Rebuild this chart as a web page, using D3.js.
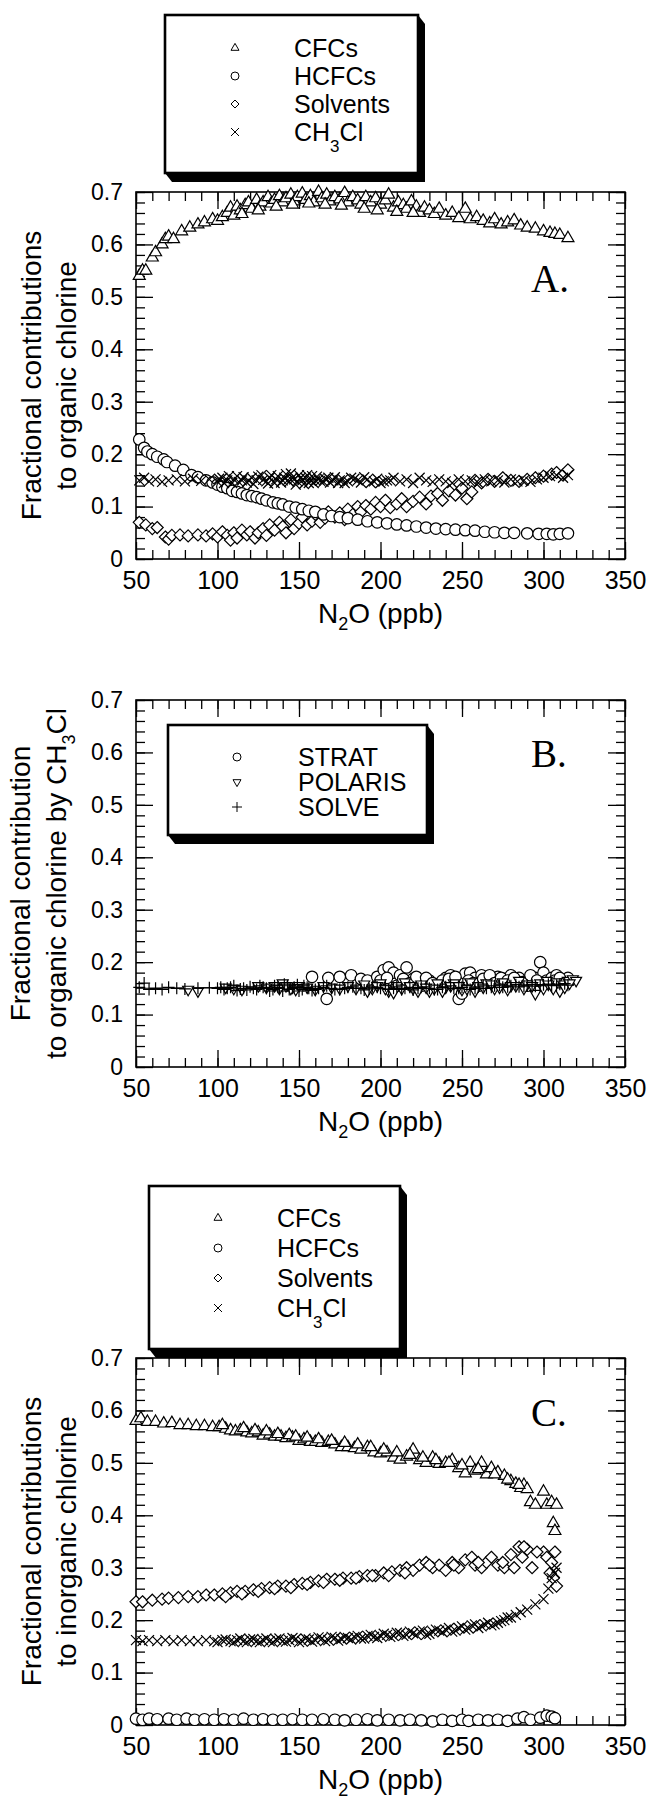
<!DOCTYPE html>
<html lang="en">
<head>
<meta charset="utf-8">
<title>Chlorine fractions vs N2O</title>
<script src="https://cdn.jsdelivr.net/npm/d3@7"></script>
<style>
  body { margin: 0; background: #fff; }
  svg { display: block; }
  text { font-family: "Liberation Sans", Arial, Helvetica, sans-serif; fill: #000; }
  .letter { font-family: "Liberation Serif", "Times New Roman", serif; }
</style>
</head>
<body>
<div id="chart"></div>
<script>
// ---- data: [N2O ppb, fraction] ----
const xTicks = [50, 100, 150, 200, 250, 300, 350];
const yTicks = [0, 0.1, 0.2, 0.3, 0.4, 0.5, 0.6, 0.7];

const aCFCs = [[52,.54],[54,.55],[56,.55],[60,.575],[62,.585],[66,.6],[68,.61],[70,.615],[73,.61],[78,.625],[83,.632],[88,.638],[92,.642],[97,.648],[100,.645],[103,.652],[106,.66],[108,.67],[110,.655],[112,.672],[114,.665],[117,.675],[119,.68],[121,.668],[124,.685],[126,.672],[128,.68],[131,.69],[133,.678],[135,.685],[138,.692],[140,.68],[142,.688],[145,.695],[147,.682],[149,.69],[152,.697],[154,.685],[157,.692],[159,.68],[162,.7],[164,.688],[167,.695],[169,.682],[172,.69],[175,.686],[178,.698],[180,.68],[183,.69],[186,.684],[188,.676],[191,.69],[194,.68],[197,.688],[200,.676],[203,.684],[205,.695],[208,.67],[211,.68],[214,.675],[216,.668],[219,.682],[222,.672],[224,.66],[227,.67],[230,.665],[233,.658],[236,.668],[240,.655],[244,.66],[248,.65],[252,.668],[255,.648],[259,.652],[263,.645],[267,.64],[270,.648],[274,.638],[278,.642],[282,.646],[286,.636],[290,.632],[295,.63],[300,.625],[304,.622],[307,.62],[310,.618],[315,.612],
  [115,.658],[125,.665],[136,.672],[146,.676],[156,.678],[166,.676],[176,.674],[190,.668],[198,.665],[210,.662],[220,.66]];
const aHCFCs = [[52,.228],[55,.212],[57,.205],[60,.2],[63,.195],[67,.19],[69,.185],[74,.178],[79,.17],[84,.16],[88,.156],[93,.15],[97,.146],[100,.142],[103,.138],[106,.135],[109,.13],[112,.128],[115,.125],[118,.122],[121,.12],[124,.118],[127,.115],[130,.112],[134,.108],[137,.106],[140,.104],[144,.1],[148,.098],[152,.095],[156,.092],[160,.09],[165,.085],[170,.082],[175,.08],[180,.078],[186,.075],[192,.072],[198,.07],[204,.068],[210,.066],[216,.064],[222,.062],[228,.06],[234,.058],[240,.057],[246,.056],[252,.055],[258,.054],[264,.052],[270,.051],[276,.05],[282,.05],[290,.049],[297,.048],[302,.048],[306,.047],[310,.048],[315,.049]];
const aSolvents = [[52,.07],[56,.065],[60,.058],[63,.06],[68,.042],[70,.038],[72,.045],[77,.046],[82,.044],[88,.046],[93,.044],[97,.048],[100,.042],[103,.052],[106,.045],[108,.036],[110,.05],[112,.04],[115,.055],[118,.046],[120,.052],[123,.04],[125,.05],[128,.058],[130,.045],[132,.065],[135,.055],[138,.07],[140,.062],[142,.05],[145,.075],[147,.058],[150,.068],[152,.08],[155,.065],[158,.072],[160,.085],[163,.07],[166,.078],[168,.09],[172,.08],[175,.088],[178,.075],[180,.095],[183,.085],[186,.1],[188,.09],[191,.102],[194,.095],[197,.108],[200,.1],[203,.112],[206,.098],[210,.105],[213,.115],[216,.1],[220,.11],[224,.118],[228,.105],[231,.12],[235,.125],[238,.112],[242,.13],[246,.122],[250,.135],[253,.115],[256,.128],[258,.15],[262,.145],[266,.152],[270,.148],[275,.155],[280,.15],[285,.148],[290,.152],[295,.155],[300,.158],[305,.162],[308,.165],[312,.16],[315,.17]];
const aCH3Cl = [[52,.15],[55,.155],[58,.148],[62,.152],[66,.147],[70,.15],[75,.152],[80,.148],[85,.153],[90,.149],[95,.152],[100,.147],[103,.155],[106,.15],[109,.145],[112,.158],[115,.15],[118,.146],[121,.155],[124,.15],[127,.16],[130,.148],[132,.155],[135,.145],[137,.158],[140,.15],[142,.162],[144,.147],[146,.155],[148,.142],[150,.16],[152,.15],[154,.155],[156,.145],[158,.158],[160,.15],[162,.152],[165,.147],[168,.155],[171,.15],[174,.145],[177,.152],[180,.148],[184,.153],[188,.146],[192,.152],[196,.148],[200,.145],[204,.15],[208,.155],[212,.148],[216,.152],[220,.145],[224,.155],[228,.15],[232,.147],[236,.152],[240,.148],[244,.145],[248,.152],[252,.148],[256,.15],[260,.145],[264,.152],[268,.148],[272,.15],[276,.146],[280,.152],[284,.148],[288,.15],[292,.147],[296,.152],[300,.155],[304,.158],[308,.16],[312,.155],[315,.16],
  [101,.153],[104,.145],[107,.158],[110,.152],[113,.147],[116,.156],[119,.15],[122,.143],[125,.157],[128,.151],[131,.144],[133,.16],[136,.152],[139,.146],[141,.155],[143,.15],[145,.163],[147,.152],[149,.148],[151,.155],[153,.143],[155,.16],[157,.15],[159,.145],[161,.157],[163,.149],[166,.153],[169,.146],[172,.156],[175,.15],[178,.145],[182,.155],[186,.15],[190,.156],[194,.145],[198,.153],[202,.148],[206,.15]];

const bSTRAT = [[158,.172],[167,.13],[168,.17],[175,.172],[182,.175],[188,.168],[192,.165],[198,.172],[202,.185],[205,.19],[208,.18],[210,.155],[212,.175],[216,.19],[220,.168],[225,.162],[225,.155],[230,.165],[235,.158],[240,.17],[243,.175],[245,.16],[248,.13],[250,.14],[252,.178],[255,.18],[258,.17],[260,.155],[262,.175],[265,.165],[268,.17],[272,.172],[275,.16],[276,.168],[280,.175],[285,.17],[290,.165],[290,.155],[295,.17],[298,.2],[300,.18],[302,.165],[305,.17],[308,.175],[312,.165],[315,.17],
  [200,.165],[204,.17],[214,.168],[218,.16],[222,.172],[228,.17],[232,.16],[238,.165],[242,.168],[246,.172],[254,.165],[257,.16],[263,.168],[267,.175],[270,.16],[274,.17],[278,.165],[282,.17],[287,.162],[292,.175],[296,.165],[304,.16],[307,.165],[310,.17],[313,.16]];
const bPOLARIS = [[82,.148],[88,.145],[105,.152],[110,.15],[115,.148],[125,.155],[135,.155],[140,.16],[145,.15],[150,.155],[160,.148],[170,.152],[180,.155],[190,.158],[195,.15],[200,.16],[205,.145],[210,.155],[215,.162],[220,.15],[225,.158],[230,.145],[235,.16],[240,.152],[245,.16],[250,.148],[255,.162],[260,.155],[265,.16],[270,.15],[275,.162],[280,.155],[285,.165],[290,.158],[295,.14],[298,.16],[300,.15],[302,.165],[305,.155],[308,.162],[310,.145],[312,.158],[315,.165],[318,.168],[320,.165],
  [130,.152],[138,.15],[142,.155],[148,.148],[155,.152],[165,.155],[175,.15],[185,.15],[192,.145],[198,.155],[203,.15],[208,.142],[213,.15],[218,.155],[223,.145],[228,.152],[233,.15],[238,.145],[243,.155],[248,.155],[253,.15],[258,.145],[263,.152],[268,.158],[273,.152],[278,.148],[283,.155],[288,.15],[293,.155],[303,.158],[306,.15],[313,.152],[316,.16]];
const bSOLVE = [[52,.152],[55,.16],[58,.148],[62,.15],[66,.148],[70,.152],[75,.15],[80,.149],[88,.15],[95,.151],[100,.15],[104,.148],[108,.152],[112,.146],[116,.15],[120,.153],[124,.148],[128,.152],[132,.145],[135,.155],[138,.15],[141,.158],[144,.148],[147,.152],[150,.145],[153,.155],[156,.15],[160,.148],[165,.152],[170,.15],[175,.148],[180,.152],[185,.15],[190,.147],[195,.153],[200,.15],[205,.148],[210,.153],[215,.15],[220,.147],[225,.152],[230,.15],[235,.148],[240,.153],[245,.15],[250,.152],[255,.148],[260,.153],[265,.15],[270,.155],[275,.152],[280,.155],[285,.153],[290,.156],[295,.154],[300,.157],[305,.155],[310,.158],[315,.156],
  [102,.152],[106,.15],[110,.155],[114,.149],[118,.147],[122,.15],[126,.155],[130,.15],[134,.148],[137,.152],[140,.145],[143,.155],[146,.15],[149,.157],[152,.148],[155,.152],[158,.146],[162,.15],[167,.155],[172,.148],[178,.15],[183,.153],[188,.15],[193,.149],[198,.152],[203,.155],[208,.15],[213,.148],[218,.152],[223,.15],[228,.153],[233,.148],[238,.152],[243,.155],[248,.15],[253,.155],[258,.15],[263,.155],[268,.152],[273,.156],[278,.153],[283,.157],[288,.154],[293,.157],[298,.155],[303,.158],[308,.156],[313,.159]];
const bFit = [[50,.150],[318,.158]];

const cCFCs = [[50,.58],[53,.585],[57,.578],[62,.578],[67,.575],[72,.576],[77,.572],[82,.572],[87,.57],[92,.57],[97,.568],[101,.568],[105,.565],[108,.562],[111,.56],[114,.562],[118,.558],[121,.556],[125,.558],[128,.552],[132,.554],[135,.55],[139,.55],[142,.547],[146,.548],[150,.542],[153,.545],[157,.54],[160,.54],[164,.538],[168,.54],[172,.535],[176,.53],[180,.53],[184,.528],[188,.525],[192,.53],[196,.52],[200,.518],[204,.52],[208,.51],[212,.506],[216,.512],[220,.525],[224,.505],[228,.5],[232,.51],[236,.498],[240,.5],[244,.505],[248,.49],[252,.48],[255,.5],[258,.485],[262,.5],[265,.478],[268,.49],[272,.482],[276,.475],[280,.465],[283,.46],[286,.452],[288,.458],[290,.45],[292,.425],[295,.42],[300,.445],[302,.42],[305,.425],[306,.385],[307,.37],[308,.42],
  [103,.572],[116,.566],[123,.562],[130,.56],[137,.555],[144,.553],[148,.55],[155,.548],[162,.545],[170,.542],[178,.538],[186,.535],[194,.53],[202,.525],[210,.52],[218,.515],[226,.51],[234,.505],[242,.5],[250,.495],[260,.488],[270,.478],[278,.468],[285,.458]];
const cHCFCs = [[50,.012],[54,.01],[58,.012],[63,.011],[70,.012],[75,.01],[81,.012],[86,.01],[92,.011],[98,.01],[104,.011],[110,.01],[116,.012],[122,.01],[128,.011],[134,.01],[140,.01],[146,.011],[152,.01],[158,.01],[165,.011],[172,.01],[178,.009],[185,.01],[192,.011],[198,.009],[205,.01],[212,.009],[218,.01],[225,.009],[232,.007],[238,.01],[244,.008],[250,.01],[254,.008],[260,.01],[266,.009],[272,.01],[278,.008],[284,.012],[288,.015],[292,.01],[298,.014],[302,.018],[305,.016],[307,.013]];
const cSolvents = [[50,.235],[54,.235],[60,.238],[66,.24],[70,.242],[76,.243],[82,.245],[88,.245],[93,.248],[98,.248],[103,.25],[108,.252],[112,.255],[117,.255],[122,.258],[127,.26],[132,.262],[137,.265],[142,.265],[147,.268],[152,.27],[157,.272],[162,.275],[167,.278],[172,.278],[177,.28],[182,.28],[187,.283],[192,.285],[197,.285],[202,.29],[207,.292],[212,.295],[216,.3],[220,.295],[224,.305],[228,.31],[232,.3],[236,.305],[240,.295],[244,.31],[248,.3],[252,.315],[256,.32],[258,.305],[262,.3],[265,.31],[268,.32],[272,.305],[276,.3],[280,.325],[282,.3],[285,.34],[287,.32],[290,.335],[293,.3],[300,.33],[302,.32],[304,.29],[305,.31],[306,.28],[307,.33],[308,.265],
  [105,.245],[115,.25],[125,.255],[135,.26],[145,.262],[155,.268],[165,.272],[175,.276],[185,.28],[195,.285],[205,.285],[215,.29],[230,.305],[245,.305],[260,.31],[275,.31],[288,.34],[296,.33]];
const cCH3Cl = [[50,.162],[54,.16],[58,.162],[63,.16],[68,.162],[73,.16],[78,.162],[83,.16],[88,.16],[93,.162],[98,.16],[103,.162],[108,.16],[112,.162],[116,.16],[120,.163],[124,.16],[128,.162],[132,.16],[136,.163],[140,.16],[144,.162],[148,.164],[152,.16],[156,.163],[160,.162],[164,.165],[168,.162],[172,.166],[176,.164],[180,.166],[184,.168],[188,.165],[192,.17],[196,.168],[200,.17],[204,.172],[208,.17],[212,.175],[216,.172],[220,.175],[224,.178],[228,.172],[232,.178],[236,.18],[240,.182],[244,.178],[248,.185],[252,.182],[256,.19],[260,.185],[264,.192],[268,.19],[272,.195],[276,.2],[280,.205],[283,.21],[286,.215],[290,.22],[295,.23],[300,.24],[303,.26],[305,.28],[307,.29],[308,.3],
  [100,.158],[105,.163],[110,.158],[114,.165],[118,.158],[122,.164],[126,.158],[130,.165],[134,.158],[138,.165],[142,.159],[146,.166],[150,.158],[154,.165],[158,.159],[162,.167],[166,.16],[170,.168],[174,.161],[178,.168],[182,.163],[186,.17],[190,.165],[194,.172],[198,.166],[202,.174],[206,.168],[210,.176],[214,.17],[218,.178],[222,.172],[226,.18],[230,.174],[234,.182],[238,.177],[242,.185],[246,.18],[250,.188],[254,.184],[258,.192],[262,.188],[266,.195],[270,.192],[274,.198],[278,.205]];

// ---- layout ----
const w = 650, h = 1801;
const left = 136, right = 625, plotH = 367;

// marker outlines centred on 0,0
const shapes = {
  tri: s => { const t = s * 0.866; return `M0,${-2*t/3}L${s/2},${t/3}L${-s/2},${t/3}Z`; },
  dtri: s => { const t = s * 0.866; return `M0,${2*t/3}L${s/2},${-t/3}L${-s/2},${-t/3}Z`; },
  circ: s => { const r = s / 2; return `M${r},0A${r},${r} 0 1,1 ${-r},0A${r},${r} 0 1,1 ${r},0Z`; },
  dia: s => { const r = s / 2; return `M0,${-r}L${r},0L0,${r}L${-r},0Z`; },
  times: s => { const r = s / 2; return `M${-r},${-r}L${r},${r}M${-r},${r}L${r},${-r}`; },
  plus: s => { const r = s / 2; return `M${-r},0L${r},0M0,${-r}L0,${r}`; }
};
const sizes = { tri: 12, dtri: 11, circ: 11.5, dia: 12, times: 10, plus: 12 };

const svg = d3.select("#chart").append("svg")
  .attr("width", w)
  .attr("height", h);

const xScale = d3.scaleLinear().domain([50, 350]).range([left, right]);

const drawPanel = (top, opts) => {
  const bottom = top + plotH;
  const yScale = d3.scaleLinear().domain([0, 0.7]).range([bottom, top]);
  const g = svg.append("g");

  // minor ticks on all sides
  const xMinor = d3.range(50, 351, 10);
  const yMinor = d3.range(0, 36).map(i => i * 0.02).filter(v => v <= 0.7001);
  g.append("g").attr("transform", `translate(0,${bottom})`)
    .call(d3.axisBottom(xScale).tickValues(xMinor).tickSize(-9).tickFormat(""));
  g.append("g").attr("transform", `translate(0,${top})`)
    .call(d3.axisTop(xScale).tickValues(xMinor).tickSize(-9).tickFormat(""));
  g.append("g").attr("transform", `translate(${left},0)`)
    .call(d3.axisLeft(yScale).tickValues(yMinor).tickSize(-9).tickFormat(""));
  g.append("g").attr("transform", `translate(${right},0)`)
    .call(d3.axisRight(yScale).tickValues(yMinor).tickSize(-9).tickFormat(""));

  // major ticks + labels
  const xAxis = g.append("g").attr("class", "x axis").attr("transform", `translate(0,${bottom})`)
    .call(d3.axisBottom(xScale).tickValues(xTicks).tickSize(-17).tickPadding(12).tickFormat(d3.format("d")));
  xAxis.selectAll("text").style("font-size", "25px");
  g.append("g").attr("transform", `translate(0,${top})`)
    .call(d3.axisTop(xScale).tickValues(xTicks).tickSize(-17).tickFormat(""));
  const yAxis = g.append("g").attr("class", "y axis").attr("transform", `translate(${left},0)`)
    .call(d3.axisLeft(yScale).tickValues(yTicks).tickSize(-17).tickPadding(13)
      .tickFormat(d => d === 0 ? "0" : d3.format(".1f")(d)));
  yAxis.selectAll("text").style("font-size", "23px");
  g.append("g").attr("transform", `translate(${right},0)`)
    .call(d3.axisRight(yScale).tickValues(yTicks).tickSize(-17).tickFormat(""));

  g.selectAll(".domain").remove();
  g.selectAll(".tick line").attr("stroke", "#000").attr("stroke-width", 1.3);
  g.selectAll(".tick text").attr("font-family", "Liberation Sans, Arial, sans-serif").attr("fill", "#000");

  g.append("rect")
    .attr("x", left).attr("y", top)
    .attr("width", right - left).attr("height", plotH)
    .attr("fill", "none").attr("stroke", "#000").attr("stroke-width", 1.6);

  // optional line
  if (opts.line) {
    g.append("path")
      .attr("d", d3.line().x(d => xScale(d[0])).y(d => yScale(d[1]))(opts.line))
      .attr("fill", "none").attr("stroke", "#000").attr("stroke-width", 1);
  }

  // series
  opts.series.forEach(s => {
    g.append("g").selectAll("path")
      .data(s.data)
      .enter()
      .append("path")
      .attr("transform", d => `translate(${xScale(d[0])},${yScale(d[1])})`)
      .attr("d", shapes[s.shape](sizes[s.shape]))
      .attr("fill", (s.shape === "times" || s.shape === "plus") ? "none" : "#fff")
      .attr("stroke", "#000")
      .attr("stroke-width", 1.2);
  });

  // panel letter
  g.append("text")
    .attr("class", "letter")
    .attr("x", 531).attr("y", yScale(opts.letterAt))
    .style("font-size", "39px")
    .text(opts.letter);

  // x title
  const xt = g.append("text")
    .attr("x", (left + right) / 2).attr("y", bottom + 64)
    .attr("text-anchor", "middle")
    .style("font-size", "28px");
  xt.append("tspan").text("N");
  xt.append("tspan").attr("dy", 7).style("font-size", "18px").text("2");
  xt.append("tspan").attr("dy", -7).text("O (ppb)");

  // y title, two lines
  const cy = (top + bottom) / 2;
  opts.ytitle.forEach((line, i) => {
    const t = g.append("text")
      .attr("transform", `translate(${opts.ytx[i]},${cy}) rotate(-90)`)
      .attr("text-anchor", "middle")
      .style("font-size", "28px");
    line.forEach(part => {
      const sp = t.append("tspan").text(part.t);
      if (part.sub) sp.attr("dy", 9).style("font-size", "18px");
      if (part.after) sp.attr("dy", -9);
    });
  });

  return yScale;
};

const drawLegend = (box, items) => {
  const g = svg.append("g");
  const { x0, y0, x1, y1, mx, tx, rows } = box;
  const dx = 7, dy = 9;
  g.append("path")
    .attr("d", `M${x1},${y0}L${x1 + dx},${y0 + dy}L${x1 + dx},${y1 + dy}L${x0 + dx},${y1 + dy}L${x0},${y1}Z`)
    .attr("fill", "#000");
  g.append("rect")
    .attr("x", x0).attr("y", y0)
    .attr("width", x1 - x0).attr("height", y1 - y0)
    .attr("fill", "#fff").attr("stroke", "#000").attr("stroke-width", 2.6);
  items.forEach((it, i) => {
    g.append("path")
      .attr("transform", `translate(${mx},${rows[i]})`)
      .attr("d", shapes[it.shape](it.shape === "plus" ? 10 : 8))
      .attr("fill", "none").attr("stroke", "#000").attr("stroke-width", 1);
    const t = g.append("text")
      .attr("x", tx).attr("y", rows[i] + 8.5)
      .style("font-size", "25px");
    it.label.forEach(part => {
      const sp = t.append("tspan").text(part.t);
      if (part.sub) sp.attr("dy", 11).style("font-size", "17px");
      if (part.after) sp.attr("dy", -11);
    });
  });
};

const chlorineItems = [
  { shape: "tri", label: [{ t: "CFCs" }] },
  { shape: "circ", label: [{ t: "HCFCs" }] },
  { shape: "dia", label: [{ t: "Solvents" }] },
  { shape: "times", label: [{ t: "CH" }, { t: "3", sub: true }, { t: "Cl", after: true }] }
];

// Panel A
drawLegend({ x0: 165, y0: 15, x1: 418, y1: 173, mx: 235, tx: 294, rows: [48, 76, 104, 132] }, chlorineItems);
drawPanel(192, {
  letter: "A.", letterAt: 0.51,
  ytitle: [[{ t: "Fractional contributions" }], [{ t: "to organic chlorine" }]],
  ytx: [41, 76],
  series: [
    { shape: "tri", data: aCFCs },
    { shape: "dia", data: aSolvents },
    { shape: "circ", data: aHCFCs },
    { shape: "times", data: aCH3Cl }
  ]
});

// Panel B
drawPanel(700, {
  letter: "B.", letterAt: 0.573,
  line: bFit,
  ytitle: [[{ t: "Fractional contribution" }], [{ t: "to organic chlorine by CH" }, { t: "3", sub: true }, { t: "Cl", after: true }]],
  ytx: [30, 66],
  series: [
    { shape: "circ", data: bSTRAT },
    { shape: "dtri", data: bPOLARIS },
    { shape: "plus", data: bSOLVE }
  ]
});
drawLegend({ x0: 168, y0: 725, x1: 427, y1: 835, mx: 237, tx: 298, rows: [757, 782, 807] }, [
  { shape: "circ", label: [{ t: "STRAT" }] },
  { shape: "dtri", label: [{ t: "POLARIS" }] },
  { shape: "plus", label: [{ t: "SOLVE" }] }
]);

// Panel C
drawLegend({ x0: 149, y0: 1186, x1: 400, y1: 1349, mx: 218, tx: 277, rows: [1218, 1248, 1278, 1308] }, chlorineItems);
drawPanel(1358, {
  letter: "C.", letterAt: 0.57,
  ytitle: [[{ t: "Fractional contributions" }], [{ t: "to inorganic chlorine" }]],
  ytx: [41, 76],
  series: [
    { shape: "tri", data: cCFCs },
    { shape: "circ", data: cHCFCs },
    { shape: "dia", data: cSolvents },
    { shape: "times", data: cCH3Cl }
  ]
});
</script>
</body>
</html>
